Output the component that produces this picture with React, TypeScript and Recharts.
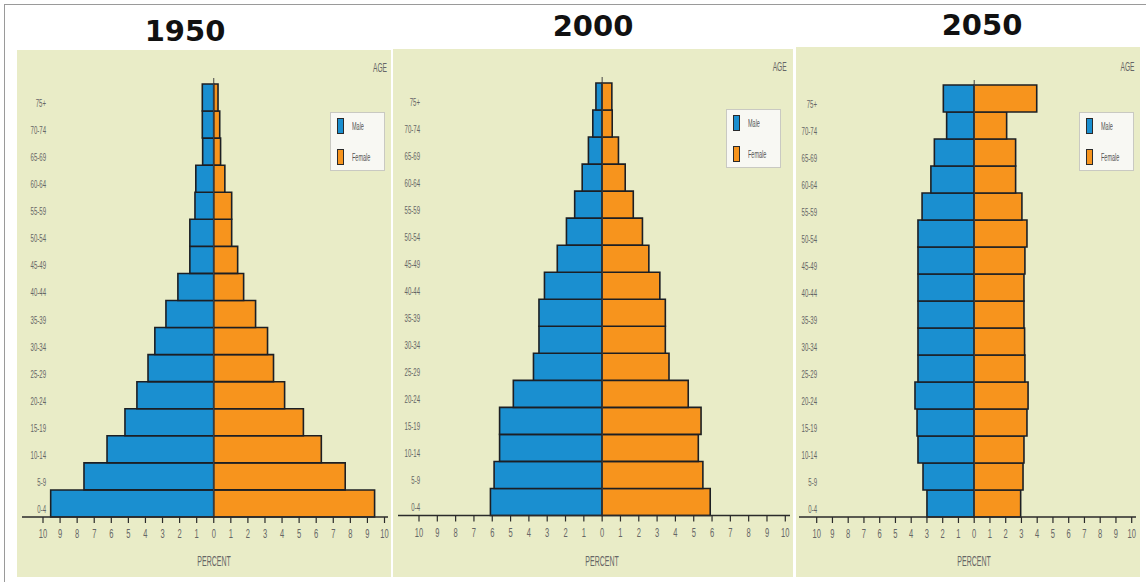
import React from 'react';
import { BarChart, Bar, XAxis, YAxis, ReferenceLine, Legend } from 'recharts';

const AGE_GROUPS = ['0-4', '5-9', '10-14', '15-19', '20-24', '25-29', '30-34', '35-39', '40-44', '45-49', '50-54', '55-59', '60-64', '65-69', '70-74', '75+'];
const X_TICKS = [-10, -9, -8, -7, -6, -5, -4, -3, -2, -1, 0, 1, 2, 3, 4, 5, 6, 7, 8, 9, 10];
const YEARS = ['1950', '2000', '2050'];
const SEX_ORDER = ['Male', 'Female'];

const MALE_1950 = [9.55, 7.6, 6.25, 5.2, 4.5, 3.85, 3.45, 2.8, 2.1, 1.4, 1.4, 1.1, 1.05, 0.65, 0.67, 0.67];
const FEMALE_1950 = [9.42, 7.7, 6.3, 5.25, 4.15, 3.5, 3.15, 2.45, 1.75, 1.4, 1.05, 1.05, 0.65, 0.4, 0.35, 0.25];
const MALE_2000 = [6.1, 5.9, 5.6, 5.6, 4.85, 3.75, 3.45, 3.45, 3.15, 2.45, 1.95, 1.5, 1.09, 0.75, 0.51, 0.34];
const FEMALE_2000 = [5.9, 5.5, 5.25, 5.4, 4.7, 3.65, 3.45, 3.45, 3.15, 2.55, 2.2, 1.7, 1.26, 0.89, 0.55, 0.53];
const MALE_2050 = [3.0, 3.25, 3.57, 3.63, 3.76, 3.57, 3.57, 3.57, 3.57, 3.57, 3.57, 3.31, 2.75, 2.53, 1.75, 1.96];
const FEMALE_2050 = [2.95, 3.1, 3.16, 3.35, 3.42, 3.22, 3.2, 3.16, 3.16, 3.22, 3.35, 3.03, 2.63, 2.63, 2.06, 3.97];

const BG = '#e9ecc7';
const BLUE = '#1a8fd0';
const ORANGE = '#f7941d';
const EDGE = '#1c1f24';
const TEXT = '#666';
const FONT = 'Liberation Sans, Arial, sans-serif';

const makeRows = (male: number[], female: number[]) =>
  AGE_GROUPS.map((age, i) => ({ age, male: -male[i], female: female[i] }));

type Cfg = {
  left: number; top: number; width: number; height: number;
  margin: { top: number; right: number; bottom: number; left: number };
  padL: number; padR: number; padTop: number; labelDx: number;
  legend: { left: number; top: number };
};

const CFGS: Cfg[] = [
  { left: 17, top: 50, width: 374, height: 527, margin: { top: 28, right: 3, bottom: 30, left: 4 }, padL: 21, padR: 3.5, padTop: 6, labelDx: 24, legend: { left: 313, top: 62 } },
  { left: 393, top: 49, width: 400, height: 528, margin: { top: 28, right: 3, bottom: 31.5, left: 4 }, padL: 21, padR: 4.7, padTop: 6, labelDx: 22, legend: { left: 333, top: 60 } },
  { left: 796, top: 47, width: 344, height: 530, margin: { top: 33, right: 4, bottom: 30, left: 2 }, padL: 17.7, padR: 4.3, padTop: 5, labelDx: 18, legend: { left: 283, top: 65 } },
];

const XTick = (props: any) => {
  const { x, y, payload } = props;
  return (
    <text transform={`translate(${x},${y + 13}) scale(0.58,1)`} textAnchor="middle" fontSize={13} fill={TEXT} fontFamily={FONT}>
      {Math.abs(payload.value)}
    </text>
  );
};

const makeYTick = (dx: number) => (props: any) => {
  const { x, y, payload } = props;
  return (
    <text transform={`translate(${x + dx},${y + 9.5}) scale(0.55,1)`} textAnchor="end" fontSize={11} fill={TEXT} fontFamily={FONT}>
      {payload.value}
    </text>
  );
};

const renderLegend = (props: any) => {
  const payload = [...(props.payload || [])].sort(
    (a: any, b: any) => SEX_ORDER.indexOf(a.value) - SEX_ORDER.indexOf(b.value)
  );
  return (
    <div style={{ width: 55, height: 59, boxSizing: 'border-box', background: '#f8f8f3', border: '1px solid #c9c9c2', position: 'relative' }}>
      {payload.map((p: any, i: number) => (
        <div key={i} style={{ position: 'absolute', left: 6, top: 5 + i * 31 }}>
          <div style={{ width: 7, height: 16, boxSizing: 'border-box', background: p.color, border: '1px solid #2a2a2a' }} />
          <span style={{ position: 'absolute', left: 15, top: 1, fontSize: 11, lineHeight: '14px', transform: 'scaleX(0.5)', transformOrigin: 'left center', color: '#555', whiteSpace: 'nowrap', fontFamily: FONT }}>
            {p.value}
          </span>
        </div>
      ))}
    </div>
  );
};

const Pyramid = ({ cfg, male, female }: { cfg: Cfg; male: number[]; female: number[] }) => {
  const data = makeRows(male, female);
  return (
    <div style={{ position: 'absolute', left: cfg.left, top: cfg.top, width: cfg.width, height: cfg.height, background: BG }}>
      <BarChart
        width={cfg.width}
        height={cfg.height}
        data={data}
        layout="vertical"
        stackOffset="sign"
        barCategoryGap={0}
        barGap={0}
        margin={cfg.margin}
      >
        <XAxis
          type="number"
          domain={[-10, 10]}
          ticks={X_TICKS}
          interval={0}
          allowDataOverflow
          padding={{ left: cfg.padL, right: cfg.padR }}
          tickSize={6}
          tickMargin={2}
          height={30}
          axisLine={{ stroke: '#2a2a2a', strokeWidth: 1.6 }}
          tickLine={{ stroke: '#2a2a2a', strokeWidth: 1.2 }}
          tick={XTick}
        />
        <YAxis
          type="category"
          dataKey="age"
          reversed
          width={1}
          tickSize={0}
          tickMargin={0}
          interval={0}
          axisLine={false}
          tickLine={false}
          padding={{ top: cfg.padTop, bottom: 0 }}
          tick={makeYTick(cfg.labelDx)}
        />
        <ReferenceLine x={0} stroke="#444" strokeWidth={1} />
        <Bar dataKey="male" name="Male" stackId="p" fill={BLUE} stroke={EDGE} strokeWidth={1.6} isAnimationActive={false} />
        <Bar dataKey="female" name="Female" stackId="p" fill={ORANGE} stroke={EDGE} strokeWidth={1.6} isAnimationActive={false} />
        <Legend
          layout="vertical"
          align="center"
          verticalAlign="middle"
          content={renderLegend}
          wrapperStyle={{ position: 'absolute', left: cfg.legend.left, top: cfg.legend.top, width: 55, height: 59 }}
        />
      </BarChart>
    </div>
  );
};

const TITLE_POS = [
  { x: 185, y: 40.5 },
  { x: 593, y: 36 },
  { x: 982, y: 35 },
];
const AGE_POS = [
  { x: 380, y: 72 },
  { x: 779.7, y: 71 },
  { x: 1127.5, y: 70.7 },
];
const PERCENT_POS = [
  { x: 214, y: 565.5 },
  { x: 602, y: 566 },
  { x: 974, y: 565.5 },
];

export default function App() {
  const series = [
    [MALE_1950, FEMALE_1950],
    [MALE_2000, FEMALE_2000],
    [MALE_2050, FEMALE_2050],
  ];
  return (
    <div style={{ position: 'absolute', left: 0, top: 0, width: 1146, height: 585, background: '#fff', overflow: 'hidden' }}>
      {CFGS.map((cfg, i) => (
        <Pyramid key={i} cfg={cfg} male={series[i][0]} female={series[i][1]} />
      ))}
      <svg width={1146} height={585} style={{ position: 'absolute', left: 0, top: 0, pointerEvents: 'none' }}>
        <line x1={4} y1={4.5} x2={1146} y2={4.5} stroke="#9a9a9a" strokeWidth={1} />
        <line x1={4.5} y1={4} x2={4.5} y2={582} stroke="#9a9a9a" strokeWidth={1} />
        {YEARS.map((t, i) => (
          <text key={'t' + i} x={TITLE_POS[i].x} y={TITLE_POS[i].y} textAnchor="middle" fontSize={29} fontWeight="bold" fontFamily="DejaVu Sans, sans-serif" fill="#111">
            {t}
          </text>
        ))}
        {AGE_POS.map((p, i) => (
          <text key={'a' + i} transform={`translate(${p.x},${p.y}) scale(0.53,1)`} textAnchor="middle" fontSize={12.5} fill={TEXT} fontFamily={FONT}>
            AGE
          </text>
        ))}
        {PERCENT_POS.map((p, i) => (
          <text key={'p' + i} transform={`translate(${p.x},${p.y}) scale(0.5,1)`} textAnchor="middle" fontSize={14} fill={TEXT} fontFamily={FONT}>
            PERCENT
          </text>
        ))}
      </svg>
    </div>
  );
}
